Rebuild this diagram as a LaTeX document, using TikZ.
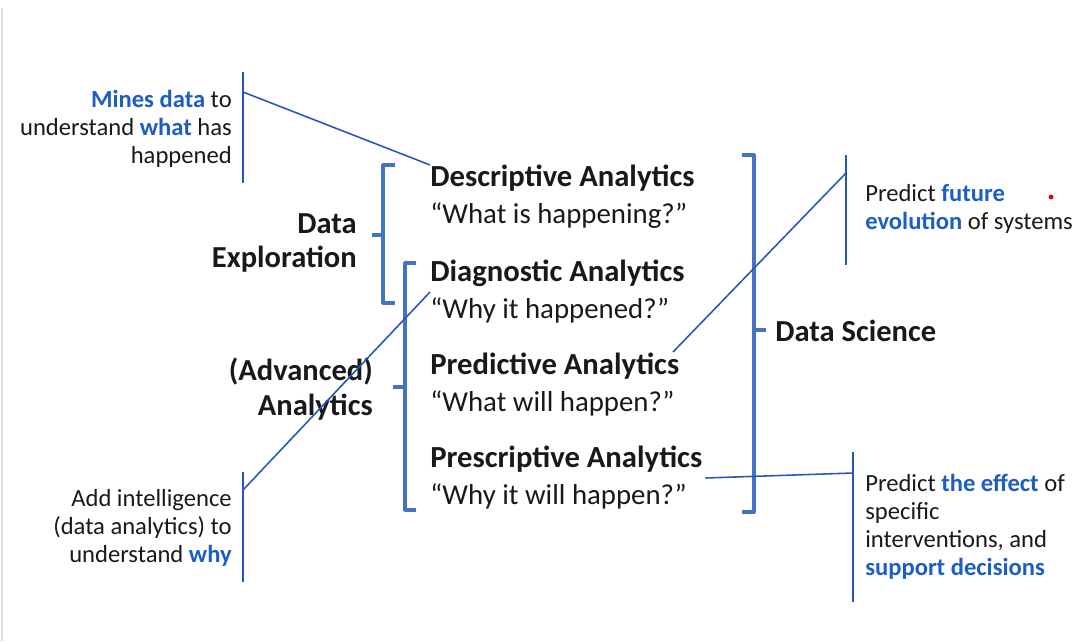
\documentclass[tikz,border=0pt]{standalone}
\usepackage{fontspec}
\setmainfont{Carlito}
\usepackage{xcolor}
\usepackage{tikz}
\usetikzlibrary{positioning}
\definecolor{barblue}{RGB}{70,114,196}
\definecolor{linkblue}{RGB}{38,84,186}
\definecolor{keyblue}{RGB}{28,94,196}
\newcommand{\kw}[1]{\textbf{\color{keyblue}#1}}
\newcommand{\kindname}[1]{{\fontsize{21.8}{26.3}\selectfont\bfseries #1}}

\begin{document}
\begin{tikzpicture}[x=0.025cm,y=-0.025cm,
  brace/.style={barblue,line width=2.2pt,line join=round},
  sidebar/.style={linkblue,line width=1.3pt},
  link/.style={linkblue,line width=1.1pt},
  kind/.style={anchor=west,align=left,inner sep=0pt,text=black!90,
    font=\fontsize{20.5}{26.3}\selectfont},
  group/.style={align=right,inner sep=0pt,text=black!90,
    font=\fontsize{21.7}{24.5}\selectfont\bfseries},
  note/.style={inner sep=0pt,text=black!90,font=\fontsize{17.5}{19.9}\selectfont}]
\useasboundingbox (0,0) rectangle (1082,641);
\draw[black!12,line width=1.5pt] (2,8) -- (2,641);

% the four kinds of analytics
\node[kind] (desc) at (430,197) {\kindname{Descriptive Analytics}\\“What is happening?”};
\node[kind] (diag) at (430,292) {\kindname{Diagnostic Analytics}\\“Why it happened?”};
\node[kind] (pred) at (430,385) {\kindname{Predictive Analytics}\\“What will happen?”};
\node[kind] (presc) at (430,478) {\kindname{Prescriptive Analytics}\\“Why it will happen?”};

% groupings
\node[group,anchor=east] (explore) at (357,243) {Data\\Exploration};
\node[group,anchor=east] (advanced) at (373,389) {(Advanced)\\Analytics};
\node[group,anchor=west] (science) at (775,331) {Data Science};

\draw[brace] (395,165) -| (383,303) -- (395,303);
\draw[brace] (383,235) -- (372,235);
\draw[brace] (416,263) -| (405,510) -- (416,510);
\draw[brace] (405,387) -- (393,387);
\draw[brace] (742,155) -| (754,512) -- (742,512);
\draw[brace] (754,330) -- (766,330);

% side notes
\node[note,anchor=east,align=right] (what) at (232,129)
  {\kw{Mines data} to\\understand \kw{what} has\\happened};
\node[note,anchor=east,align=right] (why) at (232,528)
  {Add intelligence\\(data analytics) to\\understand \kw{why}};
\node[note,anchor=west,align=left] (future) at (865,209)
  {Predict \kw{future}\\\kw{evolution} of systems};
\node[note,anchor=west,align=left] (effect) at (865,527)
  {Predict \kw{the effect} of\\specific\\interventions, and\\\kw{support decisions}};

\coordinate (whattop) at (243,72);
\coordinate (whatbot) at (243,183);
\coordinate (whattap) at (243,92);
\coordinate (whytop) at (243,472);
\coordinate (whybot) at (243,582);
\coordinate (whytap) at (243,490);
\coordinate (futuretop) at (846,155);
\coordinate (futurebot) at (846,265);
\coordinate (futuretap) at (846,173);
\coordinate (effecttop) at (853,452);
\coordinate (effectbot) at (853,602);
\coordinate (effecttap) at (853,473);
\coordinate (predtip) at (673,352);

\draw[sidebar] (whattop) -- (whatbot);
\draw[sidebar] (whytop) -- (whybot);
\draw[sidebar] (futuretop) -- (futurebot);
\draw[sidebar] (effecttop) -- (effectbot);

\draw[link] (whattap) -- (desc.north west);
\draw[link] (whytap) -- (diag.west);
\draw[link] (futuretap) -- (predtip);
\draw[link] ([xshift=2pt]presc.east) -- (effecttap);

\fill[red!85!black] (1051,197) circle[radius=1.7pt];
\end{tikzpicture}
\end{document}
